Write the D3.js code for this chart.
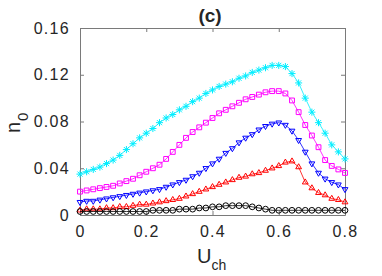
<!DOCTYPE html>
<html>
<head>
<meta charset="utf-8">
<script src="https://cdn.jsdelivr.net/npm/d3@7"></script>
<style>
	body { margin: 0; background: #fff; }
	#chart { width: 382px; height: 276px; }
	text { font-family: "Liberation Sans", Arial, sans-serif; fill: #262626; }
</style>
</head>
<body>
<div id="chart"></div>
<script>
// U_ch values (x axis)
const uch = [0, 0.02, 0.04, 0.06, 0.08, 0.10, 0.12, 0.14, 0.16, 0.18,
	0.20, 0.22, 0.24, 0.26, 0.28, 0.30, 0.32, 0.34, 0.36, 0.38,
	0.40, 0.42, 0.44, 0.46, 0.48, 0.50, 0.52, 0.54, 0.56, 0.58,
	0.60, 0.62, 0.64, 0.66, 0.68, 0.70, 0.72, 0.74, 0.76, 0.78, 0.80];

// n_0 for each curve
const nCyan = [0.035, 0.037, 0.039, 0.041, 0.044, 0.047, 0.051, 0.056, 0.061, 0.066,
	0.070, 0.074, 0.079, 0.083, 0.086, 0.090, 0.093, 0.097, 0.100, 0.104,
	0.107, 0.110, 0.112, 0.114, 0.117, 0.119, 0.122, 0.124, 0.126, 0.128,
	0.128, 0.127, 0.121, 0.113, 0.100, 0.088, 0.079, 0.070, 0.060, 0.054, 0.048];
const nMagenta = [0.020, 0.021, 0.022, 0.023, 0.024, 0.025, 0.027, 0.029, 0.031, 0.034,
	0.037, 0.040, 0.043, 0.048, 0.054, 0.060, 0.066, 0.071, 0.075, 0.079,
	0.083, 0.087, 0.090, 0.093, 0.096, 0.099, 0.101, 0.103, 0.105, 0.106,
	0.106, 0.104, 0.098, 0.088, 0.077, 0.068, 0.058, 0.047, 0.042, 0.039, 0.036];
const nBlue = [0.011, 0.012, 0.012, 0.013, 0.014, 0.015, 0.016, 0.017, 0.018, 0.019,
	0.020, 0.021, 0.022, 0.024, 0.026, 0.028, 0.030, 0.033, 0.036, 0.040,
	0.044, 0.048, 0.053, 0.057, 0.062, 0.066, 0.069, 0.073, 0.076, 0.078,
	0.079, 0.077, 0.072, 0.064, 0.054, 0.044, 0.036, 0.031, 0.028, 0.026, 0.022];
const nRed = [0.004, 0.005, 0.005, 0.005, 0.006, 0.006, 0.007, 0.007, 0.008, 0.009,
	0.009, 0.010, 0.011, 0.012, 0.013, 0.014, 0.016, 0.018, 0.020, 0.022,
	0.024, 0.026, 0.028, 0.030, 0.032, 0.033, 0.035, 0.036, 0.038, 0.040,
	0.042, 0.045, 0.046, 0.041, 0.028, 0.023, 0.019, 0.017, 0.014, 0.013, 0.011];
const nBlack = [0.003, 0.003, 0.003, 0.003, 0.003, 0.003, 0.003, 0.003, 0.003, 0.003,
	0.003, 0.004, 0.004, 0.004, 0.004, 0.005, 0.005, 0.005, 0.006, 0.006,
	0.007, 0.007, 0.008, 0.008, 0.008, 0.008, 0.007, 0.006, 0.005, 0.004,
	0.004, 0.004, 0.004, 0.004, 0.004, 0.004, 0.004, 0.004, 0.004, 0.004, 0.004];

const xTicks = [0, 0.2, 0.4, 0.6, 0.8];
const yTicks = [0, 0.04, 0.08, 0.12, 0.16];

// matlab style '*' marker (plus + cross)
const symbolStar = {
	draw(context, size) {
		const r = Math.sqrt(size) / 2;
		const d = r * 0.72;
		context.moveTo(-r, 0); context.lineTo(r, 0);
		context.moveTo(0, -r); context.lineTo(0, r);
		context.moveTo(-d, -d); context.lineTo(d, d);
		context.moveTo(-d, d); context.lineTo(d, -d);
	}
};

const series = [
	{ values: nCyan, color: '#00eeff', symbol: symbolStar, size: 50, rotate: 0 },
	{ values: nMagenta, color: '#ff00ff', symbol: d3.symbolSquare2, size: 30, rotate: 0 },
	{ values: nBlue, color: '#0000ff', symbol: d3.symbolTriangle2, size: 24, rotate: 180 },
	{ values: nRed, color: '#ff0000', symbol: d3.symbolTriangle2, size: 24, rotate: 0 },
	{ values: nBlack, color: '#000000', symbol: d3.symbolCircle, size: 26, rotate: 0 },
];

class NChart {
	constructor(element) {
		this.element = element;
		this.width = 382;
		this.height = 276;
		this.margin = { top: 28, right: 37, bottom: 61, left: 80 };
		this.draw();
	}

	draw() {
		const svg = d3.select(this.element).append('svg')
			.attr('width', this.width)
			.attr('height', this.height);
		this.svg = svg;
		this.plot = svg.append('g')
			.attr('transform', `translate(${this.margin.left},${this.margin.top})`);

		this.createScales();
		this.addAxes();
		this.addLines();
		this.addLabels();
	}

	createScales() {
		const m = this.margin;
		this.w = this.width - m.left - m.right;
		this.h = this.height - m.top - m.bottom;
		this.xScale = d3.scaleLinear().domain([0, 0.8]).range([0, this.w]);
		this.yScale = d3.scaleLinear().domain([0, 0.16]).range([this.h, 0]);
	}

	addAxes() {
		const fmt = d3.format('');
		const styleAxis = (g) => {
			g.select('.domain').attr('stroke', '#7a7a7a');
			g.selectAll('.tick line').attr('stroke', '#7a7a7a');
			g.selectAll('.tick text')
				.style('font-size', '16px')
				.style('letter-spacing', '1.3px')
				.attr('fill', '#262626');
		};

		this.plot.append('g')
			.attr('transform', `translate(0,${this.h})`)
			.call(d3.axisBottom(this.xScale).tickValues(xTicks).tickFormat(fmt)
				.tickSizeInner(-4).tickSizeOuter(0).tickPadding(11))
			.call(styleAxis);

		this.plot.append('g')
			.call(d3.axisLeft(this.yScale).tickValues(yTicks).tickFormat(fmt)
				.tickSizeInner(-4).tickSizeOuter(0).tickPadding(10))
			.call(styleAxis);

		this.plot.append('g')
			.call(d3.axisTop(this.xScale).tickValues(xTicks).tickFormat('')
				.tickSizeInner(-4).tickSizeOuter(0))
			.call(styleAxis);

		this.plot.append('g')
			.attr('transform', `translate(${this.w},0)`)
			.call(d3.axisRight(this.yScale).tickValues(yTicks).tickFormat('')
				.tickSizeInner(-4).tickSizeOuter(0))
			.call(styleAxis);

		this.plot.selectAll('.tick text').attr('font-family', null);
	}

	addLines() {
		series.forEach((s) => {
			const pts = uch.map((u, i) => [u, s.values[i]]);
			const line = d3.line()
				.x((d) => this.xScale(d[0]))
				.y((d) => this.yScale(d[1]));

			this.plot.append('path')
				.datum(pts)
				.attr('d', line)
				.attr('fill', 'none')
				.attr('stroke', s.color)
				.attr('stroke-width', 0.8);

			const sym = d3.symbol().type(s.symbol).size(s.size);
			this.plot.append('g').selectAll('path')
				.data(pts)
				.join('path')
				.attr('d', sym)
				.attr('transform', (d) => `translate(${this.xScale(d[0])},${this.yScale(d[1])}) rotate(${s.rotate})`)
				.attr('fill', 'none')
				.attr('stroke', s.color)
				.attr('stroke-width', 1);
		});
	}

	addLabels() {
		// title
		this.svg.append('text')
			.attr('x', 210)
			.attr('y', 22)
			.attr('text-anchor', 'middle')
			.style('font-size', '19px')
			.style('font-weight', 'bold')
			.text('(c)');

		// x label U_ch
		const xl = this.svg.append('text')
			.attr('x', 197)
			.attr('y', 263)
			.style('font-size', '20px');
		xl.append('tspan').text('U');
		xl.append('tspan').attr('dy', 7).style('font-size', '14px').text('ch');

		// y label n_0 (subscript sits toward the axis)
		const yl = this.svg.append('text')
			.attr('transform', 'translate(20,133) rotate(-90)')
			.style('font-size', '20px');
		yl.append('tspan').text('n');
		yl.append('tspan').attr('dy', 8).attr('dx', 1).style('font-size', '15px').text('0');
	}
}

new NChart(document.getElementById('chart'));
</script>
</body>
</html>
